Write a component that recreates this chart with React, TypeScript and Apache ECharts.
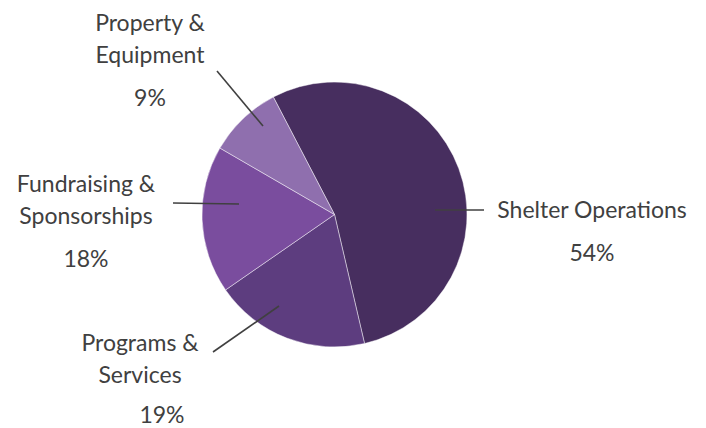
import React, { useEffect, useRef } from "react";
import * as echarts from "echarts";

const categories = ["Shelter Operations", "Programs & Services", "Fundraising & Sponsorships", "Property & Equipment"];
const labelLines = [["Shelter Operations"], ["Programs &", "Services"], ["Fundraising &", "Sponsorships"], ["Property &", "Equipment"]];
const values = [54, 19, 18, 9];
const colors = ["#472e5f", "#5d3d7f", "#7a4d9e", "#8f6fae"];

// label placement (layout only)
const labelPos = [
  { x: 592, y: 193, pct: "p", line: [[435, 210], [484, 210]] },
  { x: 140, y: 326, pct: "q", line: [[279, 306], [213, 352]] },
  { x: 86, y: 167, pct: "p", line: [[239, 204], [173, 203]] },
  { x: 150, y: 6, pct: "p", line: [[263, 126], [217, 71]] },
];

const FONT = "Lato";
const TEXT = "#404040";

export default function App() {
  const ref = useRef<HTMLDivElement>(null);
  useEffect(() => {
    if (!ref.current) return;
    const chart = echarts.init(ref.current, null, { renderer: "svg" });
    const base = {
      type: "pie",
      center: [334.5, 214.5],
      radius: [0, 132.5],
      startAngle: 117.5,
      clockwise: true,
      avoidLabelOverlap: false,
      silent: true,
    };
    chart.setOption({
      animation: false,
      backgroundColor: "#ffffff",
      series: [
        {
          ...base,
          z: 2,
          itemStyle: { borderColor: "rgba(255,255,255,0.45)", borderWidth: 1 },
          label: { show: false },
          labelLine: { show: false },
          data: categories.map((c, i) => ({ name: c, value: values[i], itemStyle: { color: colors[i] } })),
        },
        {
          ...base,
          z: 10,
          itemStyle: { color: "rgba(0,0,0,0)", borderWidth: 0 },
          label: {
            show: true,
            position: "outside",
            formatter: (p: any) => {
              const lines = labelLines[p.dataIndex].map((l) => `{n|${l}}`);
              return lines.join("\n") + `\n{${labelPos[p.dataIndex].pct}|${p.value}%}`;
            },
            rich: {
              n: { fontFamily: FONT, fontSize: 23, lineHeight: 32, color: TEXT, align: "center" },
              p: { fontFamily: FONT, fontSize: 23, lineHeight: 54, color: TEXT, align: "center" },
              q: { fontFamily: FONT, fontSize: 23, lineHeight: 48, color: TEXT, align: "center", padding: [0, 0, 0, 44] },
            },
          },
          labelLine: { show: true, showAbove: true, lineStyle: { color: "#404040", width: 1.6 } },
          labelLayout: (params: any) => {
            const pos = labelPos[params.dataIndex];
            return {
              x: pos.x,
              y: pos.y,
              align: "center",
              verticalAlign: "top",
              labelLinePoints: pos.line,
            };
          },
          data: categories.map((c, i) => ({ name: c, value: values[i] })),
        },
      ],
    });
    return () => chart.dispose();
  }, []);
  return <div ref={ref} style={{ position: "fixed", left: 0, top: 0, width: 706, height: 428 }} />;
}
